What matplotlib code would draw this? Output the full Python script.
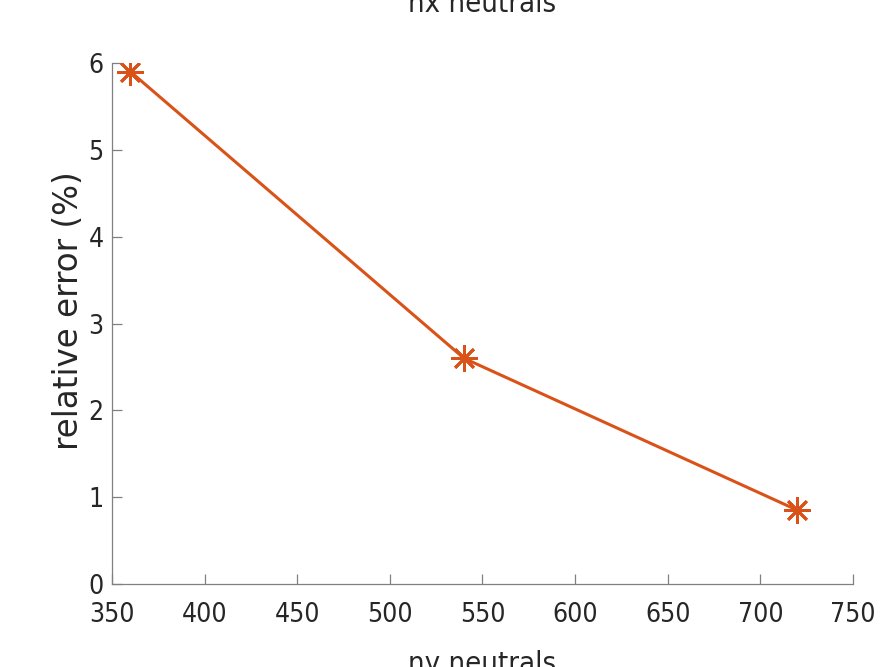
import numpy as np
import matplotlib.pyplot as plt
from matplotlib import font_manager

nx_neutrals = [360, 540, 720]
rel_error = [5.9, 2.6, 0.85]
x_ticks = [350, 400, 450, 500, 550, 600, 650, 700, 750]
y_ticks = [0, 1, 2, 3, 4, 5, 6]

# look for a condensed sans face, MATLAB output used a narrow font
cands = []
for f in font_manager.fontManager.ttflist:
    nm = f.name + ' ' + f.fname
    if 'Serif' in nm or 'Mono' in nm or f.style != 'normal':
        continue
    if f.weight not in (400, 'normal', 'regular'):
        continue
    if 'Condensed' in nm or 'Narrow' in nm or f.stretch in ('condensed', 'semi-condensed'):
        cands.append(f)
if cands:
    narrow_fp = font_manager.FontProperties(fname=cands[0].fname)
else:
    narrow_fp = font_manager.FontProperties(family='DejaVu Sans')

fig = plt.figure(figsize=(8.95, 6.67), dpi=100)
ax = fig.add_axes([0.1251, 0.1244, 0.9531 - 0.1251, 0.9055 - 0.1244])

ax.plot(nx_neutrals, rel_error, color='#D95319', linewidth=2.2,
        marker=(8, 2, 0), markersize=19, markeredgewidth=2)

ax.set_xlim(350, 750)
ax.set_ylim(0, 6)
ax.set_xticks(x_ticks)
ax.set_yticks(y_ticks)
for s in ['top', 'right']:
    ax.spines[s].set_visible(False)
for s in ['left', 'bottom']:
    ax.spines[s].set_color('#808080')
    ax.spines[s].set_linewidth(0.9)
ax.tick_params(direction='in', length=7, width=0.9, color='#808080',
               labelcolor='#262626', labelsize=19)
ax.tick_params(axis='x', pad=13)
ax.tick_params(axis='y', pad=6)
for lab in ax.get_xticklabels() + ax.get_yticklabels():
    lab.set_fontproperties(narrow_fp)
    lab.set_fontsize(19)

ax.set_ylabel('relative error (%)', fontsize=23.5, family='DejaVu Sans', color='#262626')
ax.yaxis.set_label_coords(-0.037, 0.525)
ax.set_xlabel('ny neutrals', fontproperties=narrow_fp, fontsize=21, color='#262626', labelpad=16)
ax.set_title('nx neutrals', fontproperties=narrow_fp, fontsize=21, color='#262626', pad=37)

plt.savefig('out.png', dpi=100)
